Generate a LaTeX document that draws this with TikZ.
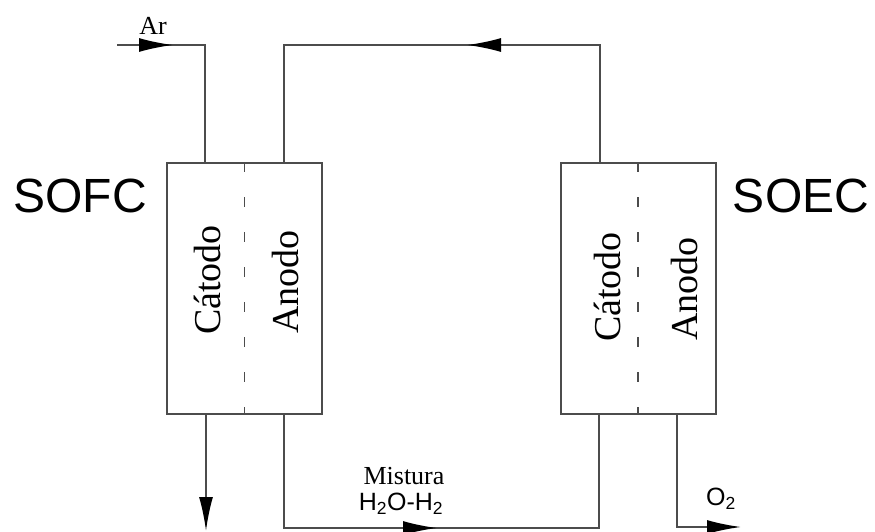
\documentclass[tikz,border=0pt]{standalone}
\usepackage{fontspec}
\setmainfont{Liberation Serif}
\newfontfamily\arialf{Liberation Sans}
\usetikzlibrary{arrows.meta,decorations.markings}
\tikzset{
  flow/.style={draw=black!70,line width=2pt},
  cellbox/.style={draw=black!70,line width=2pt,minimum width=155pt,minimum height=251pt,inner sep=0pt},
  sep/.style={draw=black!70,line width=1.6pt,dash pattern=on 10pt off 25pt},
  bigtip/.style={-{Latex[length=34pt,width=14pt,black]}},
  midtip/.style={postaction={decorate},decoration={markings,mark=at position #1 with {\arrow{Latex[length=34pt,width=14pt,black]}}}},
  elec/.style={font=\fontsize{38}{42}\selectfont,rotate=90,inner sep=0pt},
  cellname/.style={font=\arialf\fontsize{48}{52}\selectfont,inner sep=0pt},
}
\begin{document}
\begin{tikzpicture}[x=1pt,y=-1pt]
\useasboundingbox (0,0) rectangle (875,532);
% cells
\node[cellbox] (sofc) at (244.5,288.5) {};
\node[cellbox] (soec) at (638,288.5) {};
\draw[sep] (sofc.north) -- (sofc.south);
\draw[sep] (soec.north) -- (soec.south);
% labels
\node[cellname] (tsofc) at (80,195.5) {SOFC};
\node[cellname] (tsoec) at (801,195.5) {SOEC};
\node[elec] (c1) at (207,280) {Cátodo};
\node[elec] (a1) at (285,282) {Anodo};
\node[elec] (c2) at (607,287) {Cátodo};
\node[elec] (a2) at (684,289) {Anodo};
% port coordinates
\coordinate (arin) at (117,45);
\coordinate (ar1) at (205,45);
\coordinate (fct) at (205,163);
\coordinate (fat) at (284,163);
\coordinate (ect) at (600,163);
\coordinate (top1) at (600,45);
\coordinate (top2) at (284,45);
\coordinate (fcb) at (206,414);
\coordinate (fout) at (206,531);
\coordinate (fab) at (284,414);
\coordinate (bot1) at (284,528);
\coordinate (bot2) at (599,528);
\coordinate (ecb) at (599,414);
\coordinate (eab) at (677,414);
\coordinate (o1) at (677,527);
\coordinate (o2) at (741,527);
% connectors
\draw[flow,midtip=56pt] (arin) -- (ar1) -- (fct);
\draw[flow,midtip=251pt] (ect) -- (top1) -- (top2) -- (fat);
\draw[flow,midtip=267pt] (fab) -- (bot1) -- (bot2) -- (ecb);
\draw[flow,bigtip] (fcb) -- (fout);
\draw[flow,bigtip] (eab) -- (o1) -- (o2);
% stream labels
\node[font=\fontsize{26}{28}\selectfont,inner sep=0pt] (ar) at (153,26) {Ar};
\node[font=\fontsize{26}{28}\selectfont,inner sep=0pt] (mist) at (404,476) {Mistura};
\node[font=\arialf\fontsize{25}{27}\selectfont,inner sep=0pt] (mix) at (401,504) {H\textsubscript{2}O-H\textsubscript{2}};
\node[font=\arialf\fontsize{25}{27}\selectfont,inner sep=0pt] (oxy) at (721,499) {O\textsubscript{2}};
\end{tikzpicture}
\end{document}
